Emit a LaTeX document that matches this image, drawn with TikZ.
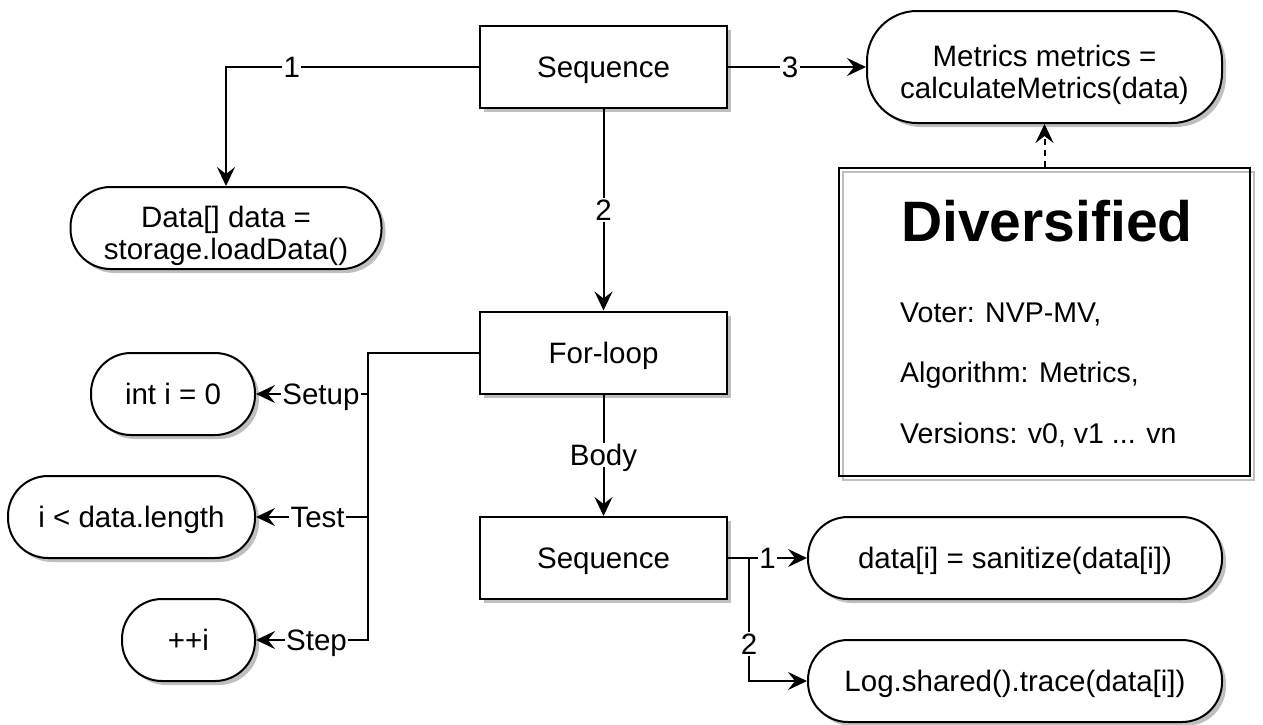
\documentclass[tikz,border=0pt]{standalone}
\usepackage{fontspec}
\setmainfont{Liberation Sans}
\usetikzlibrary{arrows.meta,shadows}
\tikzset{
  txt/.style={font=\fontsize{29.5}{32}\selectfont},
  oneline/.style={text height=21pt, text depth=0pt},
  twoline/.style={text height=62pt, text depth=0pt},
  base/.style={txt, draw=black, line width=2pt, fill=white, inner sep=0pt, align=center,
    drop shadow={shadow xshift=4pt, shadow yshift=-4pt, fill=black!25, opacity=1}},
  seqbox/.style={base, oneline, minimum width=247pt, minimum height=82pt},
  term/.style={base, oneline, rounded corners=40pt, minimum height=82pt},
  link/.style={line width=2pt, -{Stealth[length=19pt,width=18pt,inset=7pt]}},
  lbl/.style={txt, oneline, fill=white, inner sep=1.5pt},
  note/.style={font=\fontsize{28.5}{32}\selectfont, anchor=base west, inner sep=0pt},
}
\begin{document}
\begin{tikzpicture}[x=1pt,y=1pt]
\useasboundingbox (0,0) rectangle (1263,-724);

% control nodes
\node[seqbox] (seqA) at (603.5,-67) {Sequence};
\node[seqbox] (loop) at (603.5,-352.5) {For-loop};
\node[seqbox] (seqB) at (603.5,-558) {Sequence};

% statements
\node[term, twoline, minimum width=311pt] (data) at (226,-228) {Data[] data =\\storage.loadData()};
\node[term, twoline, minimum width=355pt, minimum height=112pt, rounded corners=50pt] (metrics) at (1044.5,-67) {Metrics metrics =\\calculateMetrics(data)};
\node[term, minimum width=164pt] (init) at (173,-394) {int i = 0};
\node[term, minimum width=247pt] (cond) at (131.5,-517) {i < data.length};
\node[term, minimum width=133pt] (incr) at (188.5,-640) {++i};
\node[term, minimum width=414pt] (san) at (1015,-558) {data[i] = sanitize(data[i])};
\node[term, minimum width=414pt] (log) at (1015,-681) {Log.shared().trace(data[i])};

% annotation box with its offset stroke shadow
\draw[black!25, line width=2pt] (843,-172) rectangle (1254,-480);
\node[draw=black, line width=2pt, minimum width=411pt, minimum height=308pt, inner sep=0pt] (div) at (1044.5,-322) {};
\node[anchor=base, inner sep=0pt, font=\fontsize{57}{60}\selectfont\bfseries] (divtitle) at (1047,-241) {Diversified};
\node[note] (voter) at (900,-322) {Voter: NVP-MV,};
\node[note] (algo) at (900,-382) {Algorithm: Metrics,};
\node[note] (vers) at (900,-443) {Versions: v0, v1 ... vn};

% connectors
\draw[link] (seqA.west) -| node[lbl, pos=0.37] {1} (data.north);
\draw[link] (seqA.south) -- node[lbl] {2} (loop.north);
\draw[link] (seqA.east) -- node[lbl, pos=0.45] {3} (metrics.west);
\draw[link, dash pattern=on 6pt off 5pt] (div.north) -- (metrics.south);
\draw[link] (loop.south) -- node[lbl] {Body} (seqB.north);

\coordinate (fork) at (368,-352.5);
\draw[link] (loop.west) -- (fork) |- node[lbl, pos=0.71] {Setup} (init.east);
\draw[link] (loop.west) -- (fork) |- node[lbl, pos=0.725] {Test} (cond.east);
\draw[link] (loop.west) -- (fork) |- node[lbl, pos=0.73] {Step} (incr.east);

\coordinate (split) at (749,-558);
\draw[link] (seqB.east) -- node[lbl] {1} (san.west);
\draw[link] (split) |- node[lbl, pos=0.35] {2} (log.west);
\end{tikzpicture}
\end{document}
